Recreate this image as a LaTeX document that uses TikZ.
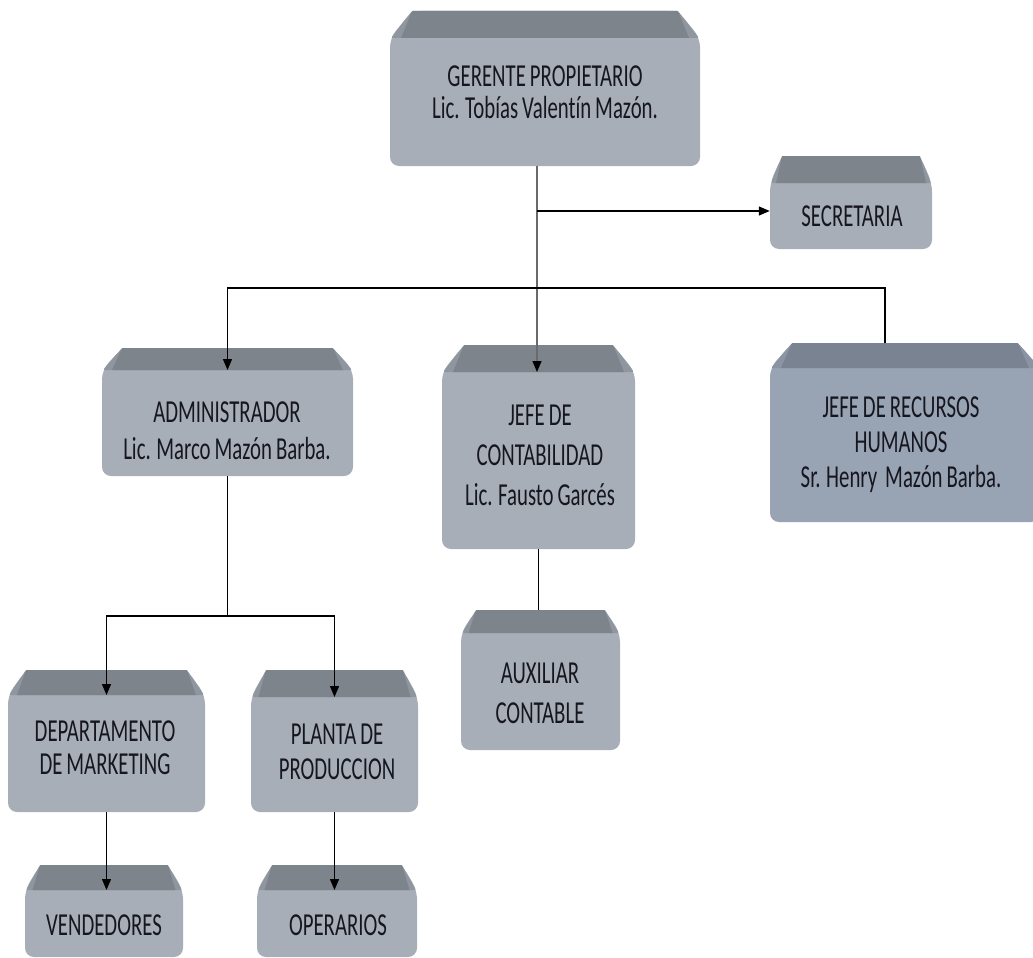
\documentclass[tikz,border=0pt]{standalone}
\usepackage{fontspec}
\newfontfamily\cf[FakeStretch=0.65,Ligatures=NoCommon,WordSpace=0.85]{Carlito}
\usetikzlibrary{arrows.meta,fit}
\definecolor{bandA}{HTML}{7E848C}
\definecolor{sideA}{HTML}{9096A0}
\definecolor{bodyA}{HTML}{A8AEB7}
\definecolor{bandB}{HTML}{7A8392}
\definecolor{sideB}{HTML}{8A94A3}
\definecolor{bodyB}{HTML}{98A3B4}
\definecolor{txt}{HTML}{16161F}
\definecolor{vline}{HTML}{6A6A6A}
\newcommand\plq[8]{%
  \fill[body#8, rounded corners=9pt] (#2+#7,#3) -- (#5-#7,#3) -- (#5,#4) -- (#5,#6) -- (#2,#6) -- (#2,#4) -- cycle;
  \fill[side#8, rounded corners=2pt] (#2+1,#4) -- (#2+#7,#3) -- (#5-#7,#3) -- (#5-1,#4) -- cycle;
  \fill[band#8] (#2+#7,#3) -- (#5-#7,#3) -- (#5-0.5*#7,#4) -- (#2+0.5*#7,#4) -- cycle;
  \coordinate (#1-nw) at (#2,#3);
  \coordinate (#1-se) at (#5,#6);
  \node[fit=(#1-nw)(#1-se), inner sep=0pt] (#1) {};
  \coordinate (#1-b) at ({(#2+#5)/2},#4);
}
\tikzset{
  lbl/.style={font=\cf\fontsize{32pt}{#1}\selectfont, align=center, text=txt, inner sep=0pt},
  conn/.style={line width=1.3pt, black},
  arr/.style={conn, -{Triangle[length=11pt,width=9pt]}},
}
\begin{document}
\begin{tikzpicture}[x=1pt,y=-1pt]
\useasboundingbox (0,0) rectangle (1033,958);
% boxes: name, x0, ytop, yband, x1, ybot, inset, variant
\plq{ger}{390}{11}{38}{700}{166}{22}{A}
\plq{sec}{770}{156}{183}{932}{249}{12}{A}
\plq{adm}{102}{348}{370}{353}{476}{20}{A}
\plq{con}{442}{345}{372}{635}{549}{22}{A}
\plq{rrh}{770}{343}{368}{1040}{522}{22}{B}
\plq{aux}{461}{610}{633}{620}{750}{15}{A}
\plq{mkt}{8}{670}{695}{205}{812}{18}{A}
\plq{pla}{251}{670}{697}{418}{812}{15}{A}
\plq{ven}{25}{865}{890}{183}{957}{15}{A}
\plq{ope}{257}{865}{890}{417}{957}{15}{A}
\coordinate (rrh-c) at (885,343);
\coordinate (bus) at (537,288);
\coordinate (bus2) at (227,616);
% texts
\node[lbl=32pt] (ger-t) at (545,92) {GERENTE PROPIETARIO\\Lic. Tobías Valentín Mazón.};
\node[lbl=32pt] (sec-t) at (852,216) {SECRETARIA};
\node[lbl=37pt] (adm-t) at (227,431) {ADMINISTRADOR\\Lic. Marco Mazón Barba.};
\node[lbl=40pt] (con-t) at (540,455) {JEFE DE\\CONTABILIDAD\\Lic. Fausto Garcés};
\node[lbl=35pt] (rrh-t) at (901,445) {JEFE DE RECURSOS\\HUMANOS\\Sr. Henry\ \ Mazón Barba.};
\node[lbl=40pt] (aux-t) at (540,693) {AUXILIAR\\CONTABLE};
\node[lbl=33pt] (mkt-t) at (105,748) {DEPARTAMENTO\\DE MARKETING};
\node[lbl=35pt] (pla-t) at (337,752) {PLANTA DE\\PRODUCCION};
\node[lbl=32pt] (ven-t) at (104,925) {VENDEDORES};
\node[lbl=32pt] (ope-t) at (338,925) {OPERARIOS};
% connectors
\draw[vline, line width=1.3pt] (ger.south -| bus) -- ([yshift=10pt]bus |- con-b);
\draw[arr] ([yshift=11pt]bus |- con-b) -- (bus |- con-b);
\draw[arr] (bus |- 0,211) -- (sec.west |- 0,211);
\draw[arr] (rrh-c) -- (rrh-c |- bus) -- (adm-b |- bus) -- (adm-b);
\draw[arr] (adm.south) -- (adm.south |- bus2) -- (mkt-b |- bus2) -- (mkt-b);
\draw[arr] (adm.south |- bus2) -- (pla-b |- bus2) -- (pla-b);
\draw[conn] (con.south) -- (con.south |- aux.north);
\draw[arr] (mkt.south) -- (mkt.south |- ven-b);
\draw[arr] (pla.south) -- (pla.south |- ope-b);
\end{tikzpicture}
\end{document}
